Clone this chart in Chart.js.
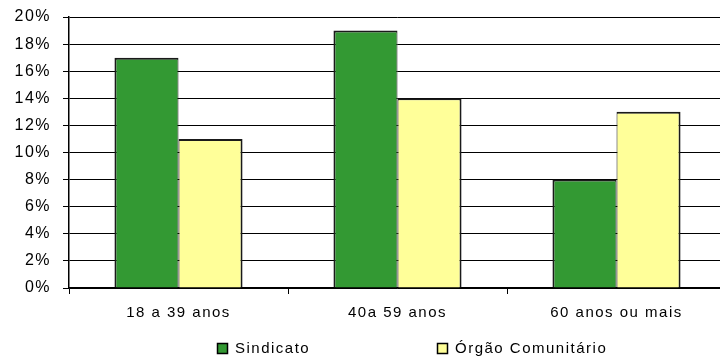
<!DOCTYPE html>
<html>
<head>
<meta charset="utf-8">
<script src="https://cdn.jsdelivr.net/npm/chart.js@4"></script>
<style>
  html, body { margin: 0; padding: 0; background: #fff; overflow: hidden; }
  #wrap { width: 728px; height: 358px; }
</style>
</head>
<body>
<div id="wrap"><canvas id="grafico"></canvas></div>
<script>
// dados
const categorias = ['18 a 39 anos', '40a 59 anos', '60 anos ou mais'];
const sindicato = [17, 19, 8];
const orgaoComunitario = [11, 14, 13];
const rotulosSeries = ['Sindicato', 'Órgão Comunitário'];

const fonte = { family: '"Liberation Sans", Arial, sans-serif', size: 15 };

// espaçamento de letras parecido com a fonte original
const espacamento = {
    id: 'espacamento',
    beforeLayout(chart) { chart.ctx.letterSpacing = '1.5px'; },
    beforeDraw(chart) { chart.ctx.letterSpacing = '1.5px'; }
};

// legenda desenhada à mão, posições como no original
const legendaManual = {
    id: 'legendaManual',
    afterDraw(chart) {
        const ctx = chart.ctx;
        const posicoes = [217, 437];
        ctx.save();
        ctx.letterSpacing = '1.5px';
        ctx.font = '15px ' + fonte.family;
        ctx.textBaseline = 'middle';
        chart.data.datasets.forEach((ds, i) => {
            const x = posicoes[i];
            ctx.fillStyle = ds.backgroundColor;
            ctx.fillRect(x + 0.5, 343.5, 10, 10);
            ctx.strokeStyle = '#000';
            ctx.lineWidth = 1.5;
            ctx.strokeRect(x + 0.5, 343.5, 10, 10);
            ctx.fillStyle = '#000';
            ctx.fillText(ds.label, x + 18, 349);
        });
        ctx.restore();
    }
};

new Chart(document.getElementById('grafico'), {
    type: 'bar',
    data: {
        labels: categorias,
        datasets: [
            { label: rotulosSeries[0], data: sindicato, backgroundColor: '#339933', borderColor: '#1a1a1a',
              borderWidth: { left: 2, top: 2, right: 1, bottom: 0 }, borderSkipped: false },
            { label: rotulosSeries[1], data: orgaoComunitario, backgroundColor: '#FFFF99', borderColor: '#1a1a1a',
              borderWidth: { left: 1, top: 2, right: 2, bottom: 0 }, borderSkipped: false }
        ]
    },
    options: {
        responsive: true,
        maintainAspectRatio: false,
        animation: false,
        layout: { padding: { top: 17, right: 2, left: 0, bottom: 0 } },
        datasets: { bar: { categoryPercentage: 0.585, barPercentage: 1 } },
        plugins: { legend: { display: false }, tooltip: { enabled: false } },
        scales: {
            x: {
                grid: { drawOnChartArea: false, drawTicks: true, tickLength: 6, color: '#000' },
                border: { color: '#000', width: 1.5 },
                ticks: { color: '#000', font: fonte, padding: 10 },
                afterFit(scale) { scale.height = 70; scale.paddingLeft = 0; scale.paddingRight = 0; }
            },
            y: {
                min: 0,
                max: 20,
                grid: { color: '#000', tickLength: 6 },
                border: { color: '#000', width: 1.5 },
                ticks: { stepSize: 2, color: '#000', font: { family: fonte.family, size: 16 }, padding: 12, callback: v => v + '%' },
                afterFit(scale) { scale.width = 69; scale.paddingTop = 0; scale.paddingBottom = 0; }
            }
        }
    },
    plugins: [espacamento, legendaManual]
});
</script>
</body>
</html>
